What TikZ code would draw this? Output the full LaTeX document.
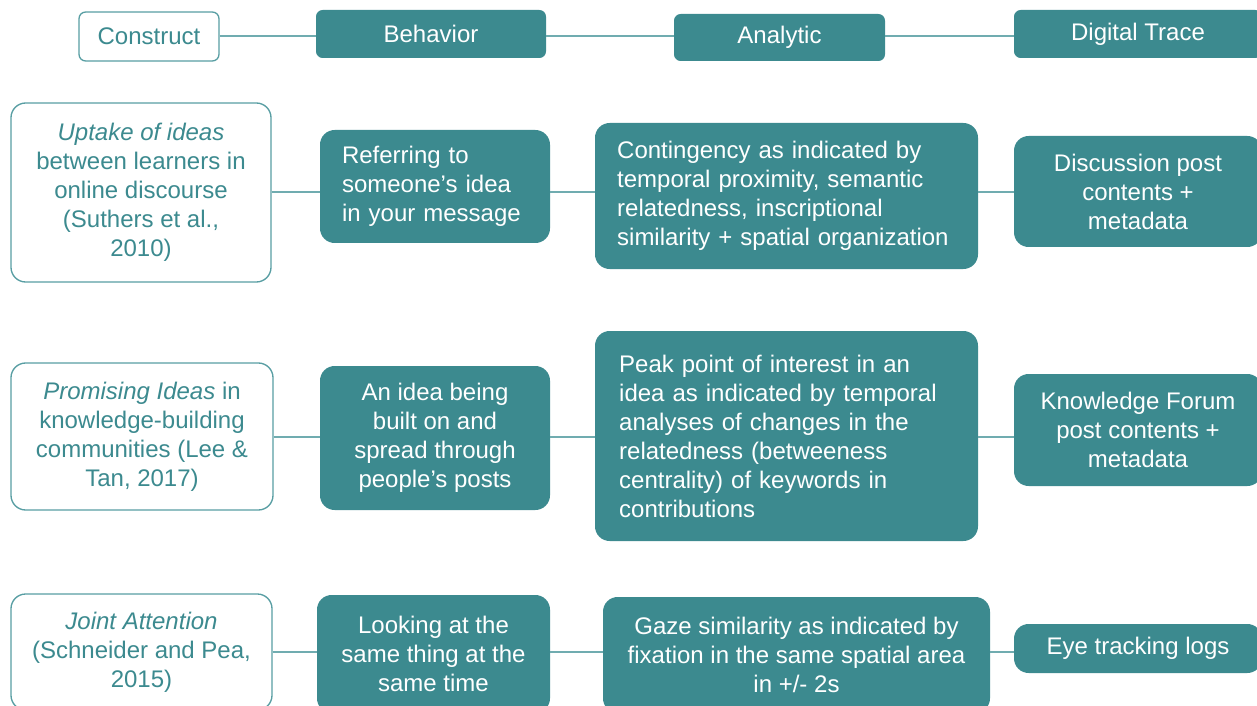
\documentclass[tikz,border=0pt]{standalone}
\usepackage{fontspec}
\setmainfont{Liberation Sans}
\usepackage{tikz}

\definecolor{tealfill}{RGB}{60,138,143}
\definecolor{tealline}{RGB}{112,172,176}
\definecolor{tealedge}{RGB}{88,158,163}

\begin{document}
\begin{tikzpicture}[x=0.75pt,y=-0.75pt,font=\fontsize{18}{21.75}\selectfont]
    \tikzstyle{box}=[rounded corners=11pt,inner sep=0pt,align=center]
    \tikzstyle{construct}=[box,draw=tealedge,line width=1pt,fill=white,text=tealfill]
    \tikzstyle{filled}=[box,fill=tealfill,text=white]
    \tikzstyle{head}=[rounded corners=5pt]
    \tikzstyle{link}=[draw=tealline,line width=1.5pt]

    \useasboundingbox (0,0) rectangle (1257,706);
    \clip (0,0) rectangle (1257,706);

    % Header row
    \node[construct,head,minimum width=105pt,minimum height=36.75pt] (C-0) at (149,36.5) {Construct};
    \node[filled,head,minimum width=172.5pt,minimum height=36pt] (B-0) at (431,34) {Behavior};
    \node[filled,head,minimum width=158.25pt,minimum height=35.25pt] (A-0) at (779.5,37.5) {Analytic};
    \node[filled,head,minimum width=186pt,minimum height=36pt] (T-0) at (1138,34) {Digital Trace};

    % Uptake of ideas
    \node[construct,minimum width=195pt,minimum height=134.25pt] (C-1) at (141,192.5)
        {\textit{Uptake of ideas}\\between learners in\\online discourse\\(Suthers et al.,\\2010)};
    \node[filled,align=left,text width=139.5pt,minimum width=172.5pt,minimum height=84.75pt] (B-1) at (435,186.5)
        {Referring to\\someone’s idea\\in your message};
    \node[filled,align=left,text width=254pt,minimum width=287.25pt,minimum height=109.5pt] (A-1) at (786.5,196)
        {Contingency as indicated by\\temporal proximity, semantic\\relatedness, inscriptional\\similarity + spatial organization};
    \node[filled,minimum width=186pt,minimum height=83.25pt] (T-1) at (1138,191.5)
        {Discussion post\\contents +\\metadata};

    % Promising ideas
    \node[construct,minimum width=196.5pt,minimum height=110.25pt] (C-2) at (142,436.5)
        {\textit{Promising Ideas} in\\knowledge-building\\communities (Lee \&\\Tan, 2017)};
    \node[filled,minimum width=172.5pt,minimum height=108pt] (B-2) at (435,438)
        {An idea being\\built on and\\spread through\\people’s posts};
    \node[filled,align=left,text width=251pt,minimum width=287.25pt,minimum height=157.5pt] (A-2) at (786.5,436)
        {Peak point of interest in an\\idea as indicated by temporal\\analyses of changes in the\\relatedness (betweeness\\centrality) of keywords in\\contributions};
    \node[filled,minimum width=186pt,minimum height=84pt] (T-2) at (1138,430)
        {Knowledge Forum\\post contents +\\metadata};

    % Joint attention
    \node[construct,minimum width=195.75pt,minimum height=87pt] (C-3) at (141.5,652)
        {\textit{Joint Attention}\\(Schneider and Pea,\\2015)};
    \node[filled,minimum width=174.75pt,minimum height=88.5pt] (B-3) at (433.5,654)
        {Looking at the\\same thing at the\\same time};
    \node[filled,minimum width=290.25pt,minimum height=87pt] (A-3) at (796.5,655)
        {Gaze similarity as indicated by\\fixation in the same spatial area\\in +/- 2s};
    \node[filled,minimum width=186pt,minimum height=36.75pt] (T-3) at (1138,648.5)
        {Eye tracking logs};

    % Connect the boxes of each row, level with the construct box
    \foreach \r in {0,...,3}
    {
        \draw[link] (C-\r.east) -- (B-\r.west |- C-\r.east);
        \draw[link] (B-\r.east |- C-\r.east) -- (A-\r.west |- C-\r.east);
        \draw[link] (A-\r.east |- C-\r.east) -- (T-\r.west |- C-\r.east);
    }
\end{tikzpicture}
\end{document}
